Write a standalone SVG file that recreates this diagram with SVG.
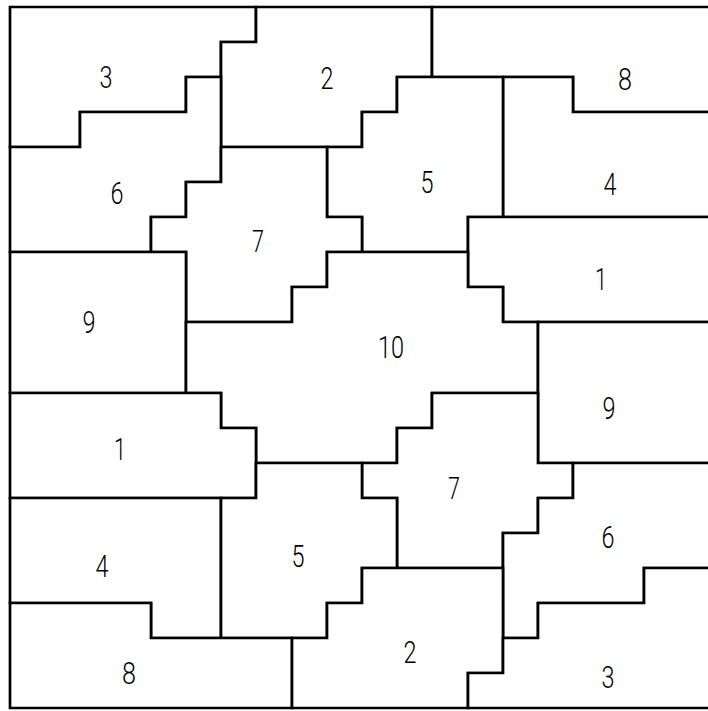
<svg xmlns="http://www.w3.org/2000/svg" width="708" height="711" viewBox="0 0 708 711">
<style>
.p{fill:#fff;stroke:#000;stroke-width:2.7;stroke-linejoin:miter}
.t{font-family:Roboto,"Liberation Sans",sans-serif;font-weight:300;font-size:31px;fill:#000;text-anchor:middle}
</style>
<rect width="708" height="711" fill="#fff"/>
<g id="piece-3a"><polygon class="p" points="10,7 256,7 256,42 221,42 221,77 186,77 186,112 80,112 80,147 10,147"/><text class="t" x="106" y="88" textLength="13" lengthAdjust="spacingAndGlyphs">3</text></g>
<g id="piece-2a"><polygon class="p" points="256,7 432,7 432,77 397,77 397,112 362,112 362,147 221,147 221,42 256,42"/><text class="t" x="327" y="89" textLength="13" lengthAdjust="spacingAndGlyphs">2</text></g>
<g id="piece-8a"><polygon class="p" points="432,7 714,7 714,112 573,112 573,77 432,77"/><text class="t" x="625" y="90" textLength="14" lengthAdjust="spacingAndGlyphs">8</text></g>
<g id="piece-4a"><polygon class="p" points="503,77 573,77 573,112 714,112 714,217 503,217"/><text class="t" x="610" y="195" textLength="13" lengthAdjust="spacingAndGlyphs">4</text></g>
<g id="piece-6a"><polygon class="p" points="10,147 80,147 80,112 186,112 186,77 221,77 221,182 186,182 186,217 151,217 151,252 10,252"/><text class="t" x="117" y="204" textLength="13" lengthAdjust="spacingAndGlyphs">6</text></g>
<g id="piece-5a"><polygon class="p" points="362,147 362,112 397,112 397,77 503,77 503,217 468,217 468,252 362,252 362,217 327,217 327,147"/><text class="t" x="427" y="193" textLength="13" lengthAdjust="spacingAndGlyphs">5</text></g>
<g id="piece-7a"><polygon class="p" points="221,147 327,147 327,217 362,217 362,252 327,252 327,287 292,287 292,322 186,322 186,252 151,252 151,217 186,217 186,182 221,182"/><text class="t" x="258" y="252" textLength="12" lengthAdjust="spacingAndGlyphs">7</text></g>
<g id="piece-1a"><polygon class="p" points="468,217 714,217 714,322 503,322 503,287 468,287"/><text class="t" x="601" y="290" textLength="12" lengthAdjust="spacingAndGlyphs">1</text></g>
<g id="piece-9a"><polygon class="p" points="10,252 186,252 186,393 10,393"/><text class="t" x="89" y="333" textLength="13" lengthAdjust="spacingAndGlyphs">9</text></g>
<g id="piece-10"><polygon class="p" points="186,322 292,322 292,287 327,287 327,252 468,252 468,287 503,287 503,322 538,322 538,393 432,393 432,428 397,428 397,463 256,463 256,428 221,428 221,393 186,393"/><text class="t" x="391" y="358" textLength="26" lengthAdjust="spacingAndGlyphs">10</text></g>
<g id="piece-9b"><polygon class="p" points="538,322 714,322 714,463 538,463"/><text class="t" x="609" y="419" textLength="13" lengthAdjust="spacingAndGlyphs">9</text></g>
<g id="piece-1b"><polygon class="p" points="10,393 221,393 221,428 256,428 256,498 10,498"/><text class="t" x="120" y="460" textLength="12" lengthAdjust="spacingAndGlyphs">1</text></g>
<g id="piece-7b"><polygon class="p" points="432,393 538,393 538,463 573,463 573,498 538,498 538,533 503,533 503,568 397,568 397,498 362,498 362,463 397,463 397,428 432,428"/><text class="t" x="454" y="499" textLength="12" lengthAdjust="spacingAndGlyphs">7</text></g>
<g id="piece-6b"><polygon class="p" points="573,463 714,463 714,568 644,568 644,603 538,603 538,638 503,638 503,533 538,533 538,498 573,498"/><text class="t" x="608" y="548" textLength="13" lengthAdjust="spacingAndGlyphs">6</text></g>
<g id="piece-4b"><polygon class="p" points="10,498 221,498 221,638 151,638 151,603 10,603"/><text class="t" x="102" y="577" textLength="13" lengthAdjust="spacingAndGlyphs">4</text></g>
<g id="piece-5b"><polygon class="p" points="256,463 362,463 362,498 397,498 397,568 362,568 362,603 327,603 327,638 221,638 221,498 256,498"/><text class="t" x="298" y="567" textLength="13" lengthAdjust="spacingAndGlyphs">5</text></g>
<g id="piece-8b"><polygon class="p" points="10,603 151,603 151,638 292,638 292,708 10,708"/><text class="t" x="129" y="684" textLength="14" lengthAdjust="spacingAndGlyphs">8</text></g>
<g id="piece-2b"><polygon class="p" points="362,568 503,568 503,673 468,673 468,708 292,708 292,638 327,638 327,603 362,603"/><text class="t" x="410" y="663" textLength="13" lengthAdjust="spacingAndGlyphs">2</text></g>
<g id="piece-3b"><polygon class="p" points="538,603 644,603 644,568 714,568 714,708 468,708 468,673 503,673 503,638 538,638"/><text class="t" x="608" y="688" textLength="13" lengthAdjust="spacingAndGlyphs">3</text></g>
<g id="connectors"></g>
</svg>
